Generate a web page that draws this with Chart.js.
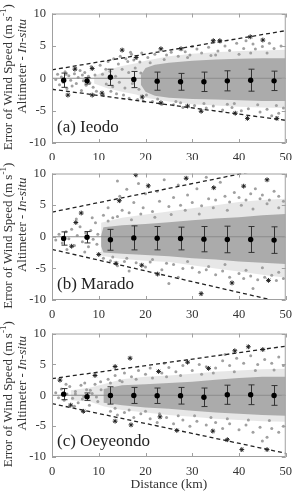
<!DOCTYPE html>
<html>
<head>
<meta charset="utf-8" />
<title>Error of wind speed vs distance</title>
<script src="https://cdn.jsdelivr.net/npm/chart.js@4.4.1/dist/chart.umd.min.js"></script>
<style>
    body { margin: 0; background: #fff; }
    #wrap { position: relative; width: 299px; height: 491px; }
    #wrap canvas { position: absolute; left: 0; }
</style>
</head>
<body>
<div id="wrap">
    <canvas id="cA" width="299" height="160" style="top:0px"></canvas>
    <canvas id="cB" width="299" height="160" style="top:160px"></canvas>
    <canvas id="cC" width="299" height="171" style="top:320px"></canvas>
</div>
<script type="text/javascript">

var binX = [2.5, 7.5, 12.5, 17.5, 22.5, 27.5, 32.5, 37.5, 42.5, 47.5];
var xTicks = [0, 10, 20, 30, 40, 50];
var yTicks = [-10, -5, 0, 5, 10];

// ---- (a) Ieodo
var meanA = [-0.3, -0.4, 0.15, -0.2, -0.45, -0.55, -0.55, -0.4, -0.3, -0.4];
var sdA = [1.1, 0.5, 1.25, 1.25, 1.4, 1.3, 1.5, 1.55, 1.7, 1.5];
var dashUpA = [[0, 1.3], [50, 7.35]];
var dashLoA = [[0, -1.7], [50, -6.5]];
var starsA = [[3.4, -2.6], [4.9, 1.4], [8.6, 1.5], [8.6, -2.6], [10.7, -2.3], [15, 4.35], [18, 3.2], [19.3, -2.9],
    [23.3, 4.55], [23.3, -3.8], [27.6, 4.55], [29, -4.3], [31.9, -5.1], [34.5, 5.8], [35.9, 5.8], [39.2, -5.4],
    [42.4, 6.4], [45.1, 5.9], [41.8, -6.2], [48.1, -6.2]];
var coreXA = [19, 20, 22, 25, 30, 35, 40, 45, 50];
var coreUpA = [0.5, 1.6, 2.1, 2.4, 2.7, 2.9, 3.0, 3.1, 3.1];
var coreLoA = [-1.0, -2.1, -2.7, -3.0, -3.2, -3.3, -3.4, -3.5, -3.5];
var haloXA = [9, 12, 15, 18, 20, 25, 30, 35, 40, 45, 50];
var haloUpA = [0.3, 1.3, 1.9, 2.3, 2.7, 3.4, 3.8, 4.0, 4.2, 4.3, 4.4];
var haloLoA = [-0.8, -1.6, -2.1, -2.5, -3.0, -3.6, -4.0, -4.2, -4.4, -4.5, -4.6];
var grayA = [[0.8, -0.2], [1.2, 0.6], [1.6, -1.0], [2.0, 0.2], [2.4, -0.6], [2.8, 1.0], [3.2, -1.6], [3.6, 0.4],
    [4.0, -0.3], [4.3, -1.2], [4.8, 0.7], [5.2, -0.8], [5.6, 0.1], [6.0, 1.2], [6.3, -1.9], [6.7, -0.4], [7.0, 0.9],
    [7.3, -1.1], [7.8, 0.3], [8.1, -0.7], [8.4, 1.8], [8.8, -1.4], [9.2, 0.5], [9.5, -2.0], [5.0, 1.6], [3.0, 0.6],
    [6.5, 0.5], [7.6, -0.2], [10.3, 2.0], [11, -2.6], [11.5, 1.4], [12, 2.6], [12.6, -2.0], [13.2, 3.0], [13.8, -2.4],
    [14.2, 2.2], [14.6, 3.4], [15.3, -2.6], [15.8, 3.0], [16.2, 2.6], [16.5, -3.1], [17, 3.7], [17.5, 2.8],
    [18.3, -3.3], [18.8, 2.5], [19.2, 3.9], [19.5, -3.5], [16.8, 4.0], [20.5, 3.2], [21.5, -3.6], [22, 3.7],
    [23.5, -4.0], [24.5, 3.6], [25.5, 4.0], [26, -4.1], [27, 3.4], [28, -4.5], [28.5, 4.1], [29.5, 3.6], [30.5, -4.2],
    [31, 4.5], [32, 3.9], [33, -4.6], [33.5, 4.8], [34.5, -4.3], [35.5, 4.2], [36.5, -4.9], [37, 5.0], [38, 4.3],
    [38.5, -4.5], [39.5, 5.4], [40.5, -5.0], [41, 4.6], [42, -4.7], [43, 5.3], [43.5, 4.5], [44.5, -5.2], [45, 4.9],
    [46, -4.8], [46.5, 5.4], [47.5, 4.6], [48.5, -5.4], [49, 5.0], [49.5, -4.6], [36, 5.6], [30, 4.9], [41.5, 5.8],
    [47, -5.8], [10.8, 0.6], [11.6, -0.9], [12.4, 1.1], [13.0, -1.3], [13.6, 0.3], [14.4, -0.6], [15.0, 1.4],
    [15.6, -1.5], [16.4, 0.9], [17.2, -0.8], [17.8, 1.6], [18.6, -1.7], [19.0, 0.8], [20.2, -2.6], [21, 2.4],
    [22.6, -3.2], [24, 2.9], [26.5, -3.6], [29, 3.2], [32.5, -3.9], [34, 3.5], [37.5, -4.0], [40, 3.7], [44, -4.1],
    [46, 3.9], [48, -4.2], [35, 3.6], [42.5, 3.9], [27.5, -3.8], [39, -3.9]];

// ---- (b) Marado
var meanB = [-0.28, -0.08, -0.48, -0.18, -0.23, -0.28, -0.38, -0.43, -0.43, -0.53];
var sdB = [1.05, 0.9, 1.65, 1.9, 1.85, 1.8, 2.0, 2.1, 2.05, 2.1];
var dashUpB = [[0, 3.9], [50, 11.4]];
var dashLoB = [[0, -2.0], [50, -10.5]];
var starsB = [[5.1, 2.25], [6.25, 3.75], [4.2, -1.5], [10, -2.8], [14.4, 5.7], [13.7, -4.2], [17.9, 9.85],
    [20.6, 8.05], [19.2, -4.5], [22.6, -5.9], [28.7, 9.25], [31.9, -9.0], [34.6, 7.75], [38.5, -7.3], [41, 8.0],
    [46, 9.0], [46.3, -6.9]];
var coreXB = [10.5, 11, 15, 20, 25, 30, 35, 40, 45, 50];
var coreUpB = [0.2, 1.5, 1.8, 2.0, 2.3, 2.6, 2.9, 3.1, 3.4, 3.6];
var coreLoB = [-1.5, -2.5, -2.7, -2.9, -3.1, -3.4, -3.6, -3.9, -4.1, -4.3];
var haloXB = [10.5, 15, 20, 25, 30, 35, 40, 45, 50];
var haloUpB = [2.2, 3.0, 3.5, 4.0, 4.5, 5.0, 5.5, 5.8, 6.0];
var haloLoB = [-3.0, -3.5, -3.8, -4.0, -4.5, -5.0, -5.5, -6.0, -6.5];
var grayB = [[0.8, -0.5], [1.5, 0.4], [2.2, -1.0], [3, 0.8], [3.6, -0.3], [4.2, 1.2], [4.8, -1.4], [5.4, 0.2],
    [6.0, 1.6], [6.5, -0.8], [7.2, 0.6], [7.8, -1.6], [8.3, 1.0], [8.8, -0.4], [9.3, 2.2], [9.6, -1.2], [5.2, 2.8],
    [8.6, 3.0], [7, -2.4], [9.8, 0.4], [3.2, -2.0], [11, 3.4], [12, 4.6], [13, 3.0], [14.5, 6.4], [15, 4.2],
    [16, 7.5], [16.5, 3.8], [17.5, 5.4], [18.5, 8.4], [19.5, 4.6], [20, 6.8], [21.5, 4.0], [22.5, 7.2], [23, 5.6],
    [24, 9.0], [25, 4.8], [26, 6.2], [27, 8.2], [27.5, 5.0], [29, 6.6], [30, 5.4], [31, 7.6], [32, 4.9], [33, 9.4],
    [33.5, 6.0], [35, 5.8], [36, 8.6], [37, 6.4], [38, 5.5], [39, 7.0], [40, 6.2], [41.5, 5.8], [42.5, 6.8],
    [43.5, 7.6], [44.5, 6.0], [45, 6.6], [46.5, 5.8], [47.5, 7.2], [48.5, 6.4], [49.5, 5.6], [18, 9.6], [14, 8.8],
    [11, -3.4], [12.5, -3.8], [14, -4.6], [15.5, -3.9], [16.5, -5.4], [18, -4.1], [20, -4.8], [21, -4.0],
    [23.5, -5.2], [25, -7.4], [26, -4.4], [28, -5.0], [30, -4.9], [31.5, -5.6], [33, -5.2], [35, -6.0], [36.5, -5.4],
    [38, -6.4], [40, -5.8], [41, -6.6], [42.5, -6.2], [44, -6.8], [45.5, -6.4], [47, -6.1], [48, -6.9], [49.5, -6.6],
    [27, -6.4], [43, -8.2], [12, 2.5], [14, 3.2], [17, 2.7], [19, 3.6], [22, 3.1], [25.5, 3.5], [28.5, 4.2],
    [31.5, 3.6], [34.5, 4.6], [37.5, 4.2], [40.5, 5.0], [43, 4.4], [46, 5.2], [48.5, 4.6], [13, -3.2], [16, -3.4],
    [21.5, -3.6], [24.5, -4.2], [29, -3.9], [33.5, -4.7], [37, -4.4], [41.5, -5.3], [45, -4.9], [48.5, -5.6]];

// ---- (c) Oeyeondo
var meanC = [0.18, -0.23, -0.03, -0.03, -0.08, -0.08, -0.33, 0.08, 0.08, -0.03];
var sdC = [0.9, 0.6, 1.4, 1.3, 1.25, 1.35, 1.5, 1.55, 1.6, 1.6];
var dashUpC = [[0, 2.7], [50, 7.95]];
var dashLoC = [[0, -1.35], [50, -9.4]];
var starsC = [[1.7, 2.45], [4.0, -1.6], [6.7, -2.6], [9.2, 3.2], [13.5, 4.65], [13.5, -4.2], [16.7, 6.0],
    [16.9, -4.8], [22.8, 3.85], [23.1, -3.5], [26.7, -5.7], [29, 5.35], [33.5, 4.35], [34.4, -5.8], [37.5, -7.2],
    [39.1, 7.2], [40.6, -8.8], [42, 7.85], [45.1, 7.4], [46, -8.8]];
var coreXC = [11, 15, 20, 25, 30, 35, 40, 45, 50];
var coreUpC = [1.0, 1.6, 1.8, 2.0, 2.2, 2.5, 2.8, 3.0, 3.0];
var coreLoC = [-1.2, -1.6, -2.0, -2.2, -2.5, -2.8, -3.0, -3.2, -3.3];
var haloXC = [4, 8, 11, 15, 20, 25, 30, 35, 40, 45, 50];
var haloUpC = [0.8, 1.2, 1.8, 2.6, 3.0, 3.2, 3.5, 3.8, 4.0, 4.2, 4.3];
var haloLoC = [-0.8, -1.0, -1.8, -2.4, -2.8, -3.2, -3.5, -3.8, -4.0, -4.2, -4.3];
var grayC = [[0.8, 0.4], [1.4, -0.4], [2.0, 1.0], [2.6, -0.8], [3.2, 0.2], [3.8, 1.4], [4.4, -0.5], [5.0, 0.6],
    [5.6, -1.2], [6.2, 1.6], [6.8, -0.2], [7.4, 0.9], [8.0, -1.6], [8.6, 0.3], [9.2, 1.8], [9.8, -1.0], [10.4, 2.2],
    [4.8, -1.8], [3.0, 1.8], [7.0, 2.0], [12, 2.6], [13.5, 3.2], [14.5, 2.4], [15.5, 3.6], [17, 3.0], [18.5, 4.0],
    [20, 3.4], [21, 4.4], [23.5, 3.6], [25, 4.5], [26.5, 3.8], [28, 4.8], [30, 4.0], [31.5, 5.0], [33, 4.6], [35, 4.4],
    [36.5, 5.6], [38, 4.8], [39.5, 6.0], [41, 5.2], [42.5, 6.4], [44, 5.0], [45.5, 5.8], [47, 5.2], [48.5, 6.2],
    [49.5, 4.8], [24, 5.2], [37, 6.6], [12.5, -2.6], [14, -3.2], [15.5, -2.8], [17.5, -3.6], [19, -3.0], [21, -3.8],
    [22.5, -4.4], [24.5, -3.6], [26, -4.6], [28, -4.0], [29.5, -5.0], [31, -4.2], [33, -4.8], [35, -4.4], [36.5, -5.4],
    [38, -4.6], [40, -5.6], [41.5, -4.8], [43, -6.0], [44.5, -5.2], [46, -6.8], [47, -5.4], [48.5, -6.0], [49.5, -5.0],
    [45, -7.4], [5, 0.2], [6.5, -0.6], [8.2, 0.8], [9.5, -0.3], [10.5, 0.9], [12.5, 2.0], [15, 2.2], [18, 2.6],
    [21.5, 2.8], [24.5, 3.0], [27.5, 3.2], [32, 3.4], [34.5, 3.6], [39, 3.8], [43.5, 4.0], [47.5, 4.1], [13.5, -2.1],
    [16.5, -2.4], [20, -2.6], [23, -3.0], [27, -3.3], [30.5, -3.3], [34, -3.6], [37.5, -3.8], [42, -4.0], [46.5, -4.1]];

var SERIF = "'Liberation Serif', 'Times New Roman', serif";

function pts(arr) {
    return arr.map(function (p) { return { x: p[0], y: p[1] }; });
}
function band(xs, ys) {
    return xs.map(function (x, i) { return { x: x, y: ys[i] }; });
}

// draws error bars, frame, inward ticks and the texts
var decoPlugin = {
    id: 'deco',
    afterDatasetDraw: function (chart, args, opts) {
        if (args.index !== 1) return;
        var ctx = chart.ctx, xs = chart.scales.x, ys = chart.scales.y;
        ctx.save();
        ctx.strokeStyle = '#333';
        ctx.lineWidth = 1;
        for (var i = 0; i < opts.bins.length; i++) {
            var px = Math.round(xs.getPixelForValue(opts.bins[i])) + 0.5;
            var t = ys.getPixelForValue(opts.mean[i] + opts.sd[i]);
            var b = ys.getPixelForValue(opts.mean[i] - opts.sd[i]);
            ctx.beginPath();
            ctx.moveTo(px, t); ctx.lineTo(px, b);
            ctx.moveTo(px - 3, t); ctx.lineTo(px + 3, t);
            ctx.moveTo(px - 3, b); ctx.lineTo(px + 3, b);
            ctx.stroke();
        }
        ctx.restore();
    },
    afterDraw: function (chart, args, opts) {
        var ctx = chart.ctx, a = chart.chartArea, xs = chart.scales.x, ys = chart.scales.y;
        ctx.save();
        ctx.strokeStyle = '#a0a0a0';
        ctx.lineWidth = 1;
        ctx.strokeRect(a.left + 0.5, a.top + 0.5, a.right - a.left - 1, a.bottom - a.top - 1);
        ctx.beginPath();
        xTicks.forEach(function (v) {
            var px = Math.round(xs.getPixelForValue(v)) + 0.5;
            ctx.moveTo(px, a.bottom); ctx.lineTo(px, a.bottom - 4);
            ctx.moveTo(px, a.top); ctx.lineTo(px, a.top + 4);
        });
        yTicks.forEach(function (v) {
            var py = Math.round(ys.getPixelForValue(v)) + 0.5;
            ctx.moveTo(a.left, py); ctx.lineTo(a.left + 4, py);
            ctx.moveTo(a.right, py); ctx.lineTo(a.right - 4, py);
        });
        ctx.stroke();

        // panel label
        ctx.fillStyle = '#222';
        ctx.font = '17px ' + SERIF;
        ctx.textAlign = 'left';
        ctx.textBaseline = 'alphabetic';
        ctx.fillText(opts.label, a.left + 5, a.bottom - 11);

        // y axis title, two lines
        var cy = (a.top + a.bottom) / 2;
        ctx.fillStyle = '#333';
        ctx.save();
        ctx.translate(9, cy - 1);
        ctx.rotate(-Math.PI / 2);
        ctx.textBaseline = 'middle';
        var f1 = '13px ' + SERIF, f1s = '9px ' + SERIF;
        var s1 = 'Error of Wind Speed (m s', s2 = '-1', s3 = ')';
        ctx.font = f1; var w1 = ctx.measureText(s1).width, w3 = ctx.measureText(s3).width;
        ctx.font = f1s; var w2 = ctx.measureText(s2).width;
        var x0 = -(w1 + w2 + w3) / 2;
        ctx.textAlign = 'left';
        ctx.font = f1; ctx.fillText(s1, x0, 0);
        ctx.font = f1s; ctx.fillText(s2, x0 + w1, -5);
        ctx.font = f1; ctx.fillText(s3, x0 + w1 + w2, 0);
        ctx.restore();

        ctx.save();
        ctx.translate(23, cy - 12);
        ctx.rotate(-Math.PI / 2);
        ctx.textBaseline = 'middle';
        ctx.textAlign = 'left';
        var t1 = 'Altimeter - ', t2 = 'In-situ';
        ctx.font = f1; var u1 = ctx.measureText(t1).width;
        ctx.font = 'italic 13px ' + SERIF; var u2 = ctx.measureText(t2).width;
        var z0 = -(u1 + u2) / 2;
        ctx.font = f1; ctx.fillText(t1, z0, 0);
        ctx.font = 'italic 13px ' + SERIF; ctx.fillText(t2, z0 + u1, 0);
        ctx.restore();

        if (opts.xTitle) {
            ctx.font = '13.5px ' + SERIF;
            ctx.textAlign = 'center';
            ctx.textBaseline = 'middle';
            ctx.fillText(opts.xTitle, (a.left + a.right) / 2, a.bottom + 27);
        }
        ctx.restore();
    }
};

function makePanel(canvasId, topPad, xHeight, label, mean, sd, dashUp, dashLo, stars, gray,
                   haloX, haloUp, haloLo, coreX, coreUp, coreLo, xTitle) {
    var ctx = document.getElementById(canvasId).getContext('2d');
    return new Chart(ctx, {
        type: 'line',
        data: {
            datasets: [
                { data: band(binX, mean), showLine: false, pointRadius: 2.7, pointBackgroundColor: '#000',
                  pointBorderWidth: 0 },
                { data: pts(stars), showLine: false, pointStyle: 'star', pointRadius: 2.4,
                  pointBorderColor: '#222', pointBorderWidth: 1, pointBackgroundColor: '#222' },
                { data: pts(dashUp), borderColor: '#222', borderWidth: 1.3, borderDash: [4, 3], pointRadius: 0 },
                { data: pts(dashLo), borderColor: '#222', borderWidth: 1.3, borderDash: [4, 3], pointRadius: 0 },
                { data: [{ x: 0, y: 0 }, { x: 50, y: 0 }], borderColor: '#8c8c8c', borderWidth: 1, pointRadius: 0 },
                { data: pts(gray), showLine: false, pointRadius: 1.5, pointBorderWidth: 0,
                  pointBackgroundColor: 'rgb(160,160,160)' },
                { data: band(haloX, haloUp), borderWidth: 0, pointRadius: 0, fill: '+1',
                  backgroundColor: 'rgba(160,160,160,0.25)' },
                { data: band(haloX, haloLo), borderWidth: 0, pointRadius: 0 },
                { data: band(coreX, coreUp), borderWidth: 0, pointRadius: 0, fill: '+1',
                  backgroundColor: 'rgba(155,155,155,0.8)' },
                { data: band(coreX, coreLo), borderWidth: 0, pointRadius: 0 }
            ]
        },
        options: {
            responsive: false,
            animation: false,
            devicePixelRatio: 1,
            layout: { autoPadding: false, padding: { left: 0, right: 7, top: topPad, bottom: 0 } },
            plugins: {
                legend: { display: false },
                tooltip: { enabled: false },
                deco: { bins: binX, mean: mean, sd: sd, label: label, xTitle: xTitle }
            },
            scales: {
                x: {
                    type: 'linear', min: 0, max: 50,
                    grid: { display: false, drawTicks: false },
                    border: { display: false },
                    afterBuildTicks: function (s) { s.ticks = xTicks.map(function (v) { return { value: v }; }); },
                    afterFit: function (s) { s.height = xHeight; },
                    ticks: { padding: 7, maxRotation: 0, color: '#333', font: { family: SERIF, size: 12.5 } }
                },
                y: {
                    min: -10, max: 10,
                    grid: { display: false, drawTicks: false },
                    border: { display: false },
                    afterBuildTicks: function (s) { s.ticks = yTicks.map(function (v) { return { value: v }; }); },
                    afterFit: function (s) { s.width = 52; },
                    ticks: { padding: 6, color: '#333', font: { family: SERIF, size: 12.5 } }
                }
            }
        },
        plugins: [decoPlugin]
    });
}

makePanel('cA', 11, 17, '(a) Ieodo', meanA, sdA, dashUpA, dashLoA, starsA, grayA,
    haloXA, haloUpA, haloLoA, coreXA, coreUpA, coreLoA, null);
makePanel('cB', 8, 20, '(b) Marado', meanB, sdB, dashUpB, dashLoB, starsB, grayB,
    haloXB, haloUpB, haloLoB, coreXB, coreUpB, coreLoB, null);
makePanel('cC', 6, 34, '(c) Oeyeondo', meanC, sdC, dashUpC, dashLoC, starsC, grayC,
    haloXC, haloUpC, haloLoC, coreXC, coreUpC, coreLoC, 'Distance (km)');

</script>
</body>
</html>
